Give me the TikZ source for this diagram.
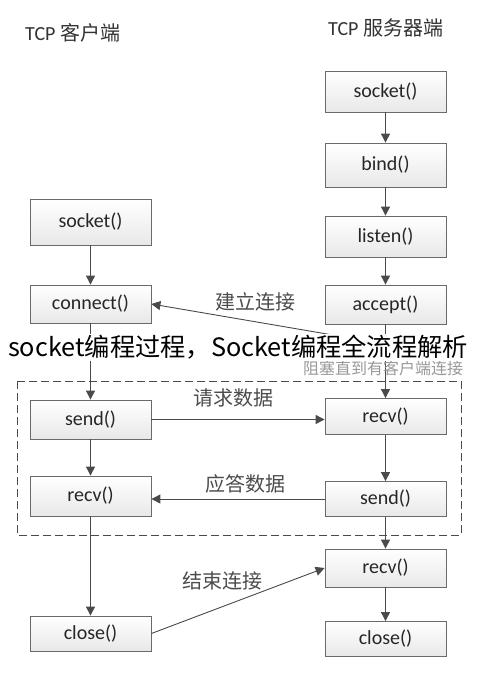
\documentclass[tikz,border=0pt]{standalone}
\usepackage{fontspec}
\setmainfont{Carlito}
\newfontfamily\cjk{Noto Sans CJK SC}
\usetikzlibrary{arrows.meta}
\definecolor{linec}{HTML}{4A4A4A}
\definecolor{boxc}{HTML}{6A6A6A}
\tikzset{
  fbox/.style={draw=boxc, line width=0.8pt, top color=white, bottom color=black!9,
    minimum width=121pt, inner sep=0pt, font=\fontsize{20}{20}\selectfont, text=black!85},
  conn/.style={draw=linec, line width=0.9pt, -{Triangle[length=9pt,width=9pt]}},
  lab/.style={font=\cjk\fontsize{20}{20}\selectfont, text=black!70, inner sep=0pt},
  ttl/.style={font=\fontsize{20}{20}\selectfont, text=black!80, inner sep=0pt},
}
\begin{document}
\begin{tikzpicture}[x=1pt,y=-1pt]
\useasboundingbox[fill=white] (0,0) rectangle (476,676);
% titles
\node[ttl, anchor=west] (tc) at (25,33) {TCP {\cjk 客户端}};
\node[ttl, anchor=west] (ts) at (328,28) {TCP {\cjk 服务器端}};
% server column
\node[fbox, minimum height=41pt] (ssock) at (385.5,91.5) {socket()};
\node[fbox, minimum height=44pt] (sbind) at (385.5,165) {bind()};
\node[fbox, minimum height=41pt] (slist) at (385.5,236.5) {listen()};
\node[fbox, minimum height=39pt] (sacc) at (385.5,304.5) {accept()};
\node[fbox, minimum height=36pt] (srecv) at (385.5,416.5) {recv()};
\node[fbox, minimum height=35pt] (ssend) at (385.5,499) {send()};
\node[fbox, minimum height=38pt] (srecvb) at (385.5,568) {recv()};
\node[fbox, minimum height=35pt] (sclose) at (385.5,639) {close()};
% client column
\node[fbox, minimum height=46pt] (csock) at (90.5,222) {socket()};
\node[fbox, minimum height=38pt] (cconn) at (90.5,304) {connect()};
\node[fbox, minimum height=39pt] (csend) at (90.5,419.5) {send()};
\node[fbox, minimum height=40pt] (crecv) at (90.5,496) {recv()};
\node[fbox, minimum height=35pt] (cclose) at (90.5,633.5) {close()};
% dashed region
\draw[draw=linec, line width=0.9pt, dash pattern=on 8pt off 4pt] (17,381) rectangle (461,535);
% vertical arrows
\draw[conn] (ssock) -- (sbind);
\draw[conn] (sbind) -- (slist);
\draw[conn] (slist) -- (sacc);
\draw[conn] (sacc) -- (srecv);
\draw[conn] (srecv) -- (ssend);
\draw[conn] (ssend) -- (srecvb);
\draw[conn] (srecvb) -- (sclose);
\draw[conn] (csock) -- (cconn);
\draw[conn] (cconn) -- (csend);
\draw[conn] (csend) -- (crecv);
\draw[conn] (crecv) -- (cclose);
% horizontal / diagonal arrows
\coordinate (acc) at (385.5,344);
\draw[conn] (acc) -- (cconn.east);
\draw[conn] (csend.east) -- (srecv.west |- csend.east);
\draw[conn] (ssend.west) -- (crecv.east |- ssend.west);
\draw[conn] (cclose.east) -- (srecvb.west);
% labels
\node[lab] (l1) at (255,302) {建立连接};
\node[lab] (l2) at (233,398) {请求数据};
\node[lab] (l3) at (245,484) {应答数据};
\node[lab] (l4) at (222,581) {结束连接};
\node[font=\cjk\fontsize{16}{16}\selectfont, text=black!40, inner sep=0pt] (blk) at (383,368) {阻塞直到有客户端连接};
% overlay title
\node[fill=white, inner sep=0pt, minimum height=27pt, minimum width=466pt] (ov) at (238,347.5)
  {\resizebox{460pt}{!}{\cjk\fontsize{25}{25}\selectfont socket编程过程，Socket编程全流程解析}};
\end{tikzpicture}
\end{document}
